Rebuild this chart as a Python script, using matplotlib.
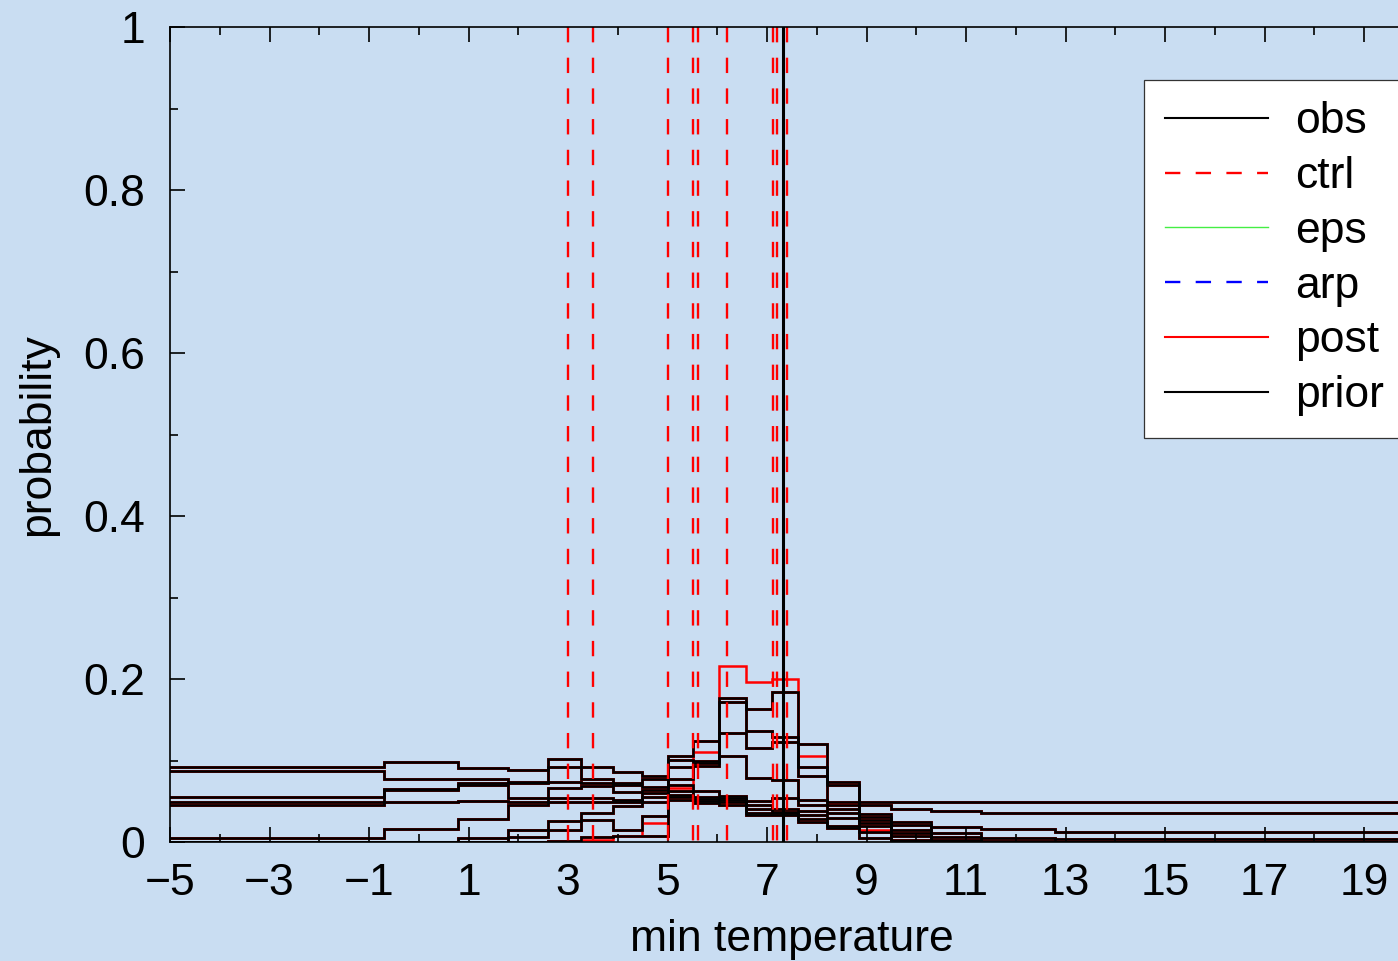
import matplotlib
matplotlib.use("Agg")
import matplotlib.pyplot as plt
from matplotlib.ticker import FuncFormatter

plt.rcParams["font.family"] = ["Liberation Sans", "DejaVu Sans"]

# bin edges of the forecast histograms (min temperature)
bin_edges = [-6.0, -0.70, 0.78, 1.80, 2.60, 3.27, 3.91, 4.48, 5.00, 5.52, 6.04,
             6.57, 7.09, 7.63, 8.21, 8.84, 9.50, 10.29, 11.30, 12.79, 21.0]

# prior histograms (one list per member)
prior_1 = [0.0924, 0.0978, 0.0903, 0.0883, 0.1020, 0.0916, 0.0863, 0.0810, 0.1059, 0.1240,
           0.1771, 0.1628, 0.1845, 0.1202, 0.0732, 0.0487, 0.0487, 0.0487, 0.0495, 0.0495]
prior_2 = [0.0871, 0.0773, 0.0773, 0.0735, 0.0924, 0.0769, 0.0728, 0.0769, 0.1006, 0.0990,
           0.1714, 0.1362, 0.1284, 0.0916, 0.0699, 0.0454, 0.0405, 0.0380, 0.0352, 0.0352]
prior_3 = [0.0556, 0.0650, 0.0725, 0.0720, 0.0740, 0.0720, 0.0699, 0.0679, 0.0924, 0.0965,
           0.1333, 0.1149, 0.1223, 0.0814, 0.0487, 0.0344, 0.0249, 0.0188, 0.0160, 0.0127]
prior_4 = [0.0495, 0.0638, 0.0700, 0.0535, 0.0662, 0.0691, 0.0618, 0.0638, 0.0769, 0.0935,
           0.1055, 0.0789, 0.0761, 0.0515, 0.0454, 0.0303, 0.0209, 0.0106, 0.0045, 0.0033]
prior_5 = [0.0454, 0.0495, 0.0503, 0.0495, 0.0536, 0.0536, 0.0515, 0.0597, 0.0699, 0.0620,
           0.0560, 0.0507, 0.0536, 0.0454, 0.0401, 0.0270, 0.0147, 0.0057, 0.0016, 0.0004]
prior_6 = [0.0045, 0.0155, 0.0278, 0.0454, 0.0495, 0.0495, 0.0495, 0.0556, 0.0630, 0.0556,
           0.0540, 0.0454, 0.0401, 0.0380, 0.0352, 0.0237, 0.0115, 0.0025, 0.0004, 0.0]
prior_7 = [0.0004, 0.0004, 0.0045, 0.0147, 0.0254, 0.0352, 0.0442, 0.0495, 0.0577, 0.0524,
           0.0515, 0.0400, 0.0370, 0.0330, 0.0300, 0.0200, 0.0074, 0.0010, 0.0, 0.0]
prior_8 = [0.0, 0.0, 0.0004, 0.0065, 0.0147, 0.0270, 0.0147, 0.0319, 0.0548, 0.0507,
           0.0490, 0.0352, 0.0352, 0.0280, 0.0196, 0.0127, 0.0030, 0.0004, 0.0, 0.0]
prior_9 = [0.0, 0.0, 0.0, 0.0004, 0.0014, 0.0065, 0.0074, 0.0074, 0.0516, 0.0483,
           0.0460, 0.0330, 0.0330, 0.0249, 0.0168, 0.0050, 0.0004, 0.0, 0.0, 0.0]
priors = [prior_1, prior_2, prior_3, prior_4, prior_5, prior_6, prior_7, prior_8, prior_9]

# posterior: same as prior except this member
post_sharp = [0.0, 0.0, 0.0, 0.0, 0.0014, 0.0025, 0.0074, 0.0237, 0.0658, 0.1109,
              0.2164, 0.1967, 0.2000, 0.1059, 0.0475, 0.0147, 0.0025, 0.0, 0.0, 0.0]

ctrl_values = [3.00, 3.51, 5.00, 5.51, 5.61, 6.20, 7.11, 7.19, 7.41]
obs_value = 7.31

BG = "#c9ddf2"
DASH = (0, (6.5, 6.5))

fig = plt.figure(figsize=(13.98, 9.61), dpi=100, facecolor=BG)
ax = fig.add_axes([0.1216, 0.1238, 0.8898, 0.8481], facecolor=BG)

# posterior underneath, prior on top
for p in priors:
    ax.stairs(p, bin_edges, baseline=None, color="#b00000", lw=2.1)
ax.stairs(post_sharp, bin_edges, baseline=None, color="red", lw=1.8)
for p in priors:
    ax.stairs(p, bin_edges, baseline=None, color="black", lw=1.8)

ctrl_line = None
for c in ctrl_values:
    ctrl_line, = ax.plot([c, c], [1, 0], color="red", lw=1.7, linestyle=DASH)
obs_line, = ax.plot([obs_value, obs_value], [1, 0], color="black", lw=2.2)

eps_line, = ax.plot([], [], color="#44ee44", lw=1.0)
arp_line, = ax.plot([], [], color="blue", lw=1.7, linestyle=DASH)
post_handle, = ax.plot([], [], color="red", lw=1.5)
prior_handle, = ax.plot([], [], color="black", lw=1.5)
obs_handle, = ax.plot([], [], color="black", lw=1.5)

ax.set_xlim(-5, 20)
ax.set_ylim(0, 1)
ax.set_xticks(range(-5, 20, 2))
ax.set_xticks(range(-4, 21, 2), minor=True)
ax.set_yticks([0, 0.2, 0.4, 0.6, 0.8, 1.0])
ax.set_yticks([0.1, 0.3, 0.5, 0.7, 0.9], minor=True)
ax.yaxis.set_major_formatter(FuncFormatter(lambda v, _: f"{v:g}"))

ax.tick_params(which="both", direction="in", top=True, right=True, width=1.2,
               labelsize=32, colors="black")
ax.tick_params(which="major", length=11)
ax.tick_params(which="minor", length=6)
ax.tick_params(axis="x", pad=15)
ax.tick_params(axis="y", pad=18)
for s in ax.spines.values():
    s.set_linewidth(1.2)

ax.set_xlabel("min temperature", fontsize=32, labelpad=11)
ax.set_ylabel("probability", fontsize=32, labelpad=18)

leg = ax.legend([obs_handle, ctrl_line, eps_line, arp_line, post_handle, prior_handle],
                ["obs", "ctrl", "eps", "arp", "post", "prior"],
                loc="upper left", bbox_to_anchor=(1144 / 1398, (961 - 80) / 961),
                bbox_transform=fig.transFigure, fontsize=32, frameon=True,
                fancybox=False, framealpha=1, facecolor="white", edgecolor="#333333",
                borderaxespad=0, borderpad=0.48, handlelength=2.3, handletextpad=0.62,
                labelspacing=0.31)
leg.get_frame().set_linewidth(0.9)

fig.savefig("out.png", dpi=100, facecolor=BG)
